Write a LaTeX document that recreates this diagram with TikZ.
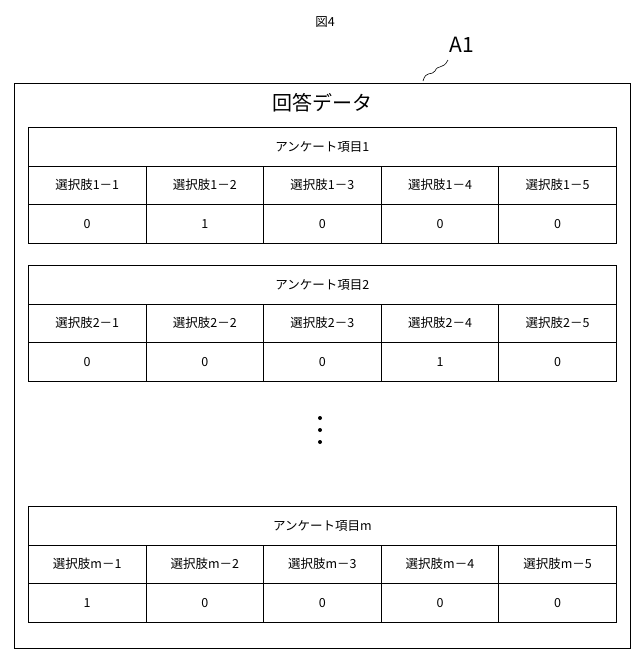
\documentclass[tikz,border=0pt]{standalone}
\usepackage{fontspec}
\setmainfont{Noto Sans CJK JP}
\begin{document}
\begin{tikzpicture}[x=1pt,y=-1pt,
  cell/.style={draw,line width=0.8pt,minimum width=117.6pt,minimum height=38.5pt,anchor=north west,inner sep=0pt,font=\fontsize{12.5}{14}\selectfont},
  hdr/.style={draw,line width=0.8pt,minimum width=588pt,minimum height=38.5pt,anchor=north west,inner sep=0pt,font=\fontsize{12.5}{14}\selectfont}]
\useasboundingbox (0,0) rectangle (640,665);
\node (fig) at (325,22) {\fontsize{12.5}{14}\selectfont 図4};
\node (a1) at (462,45) {\fontsize{21}{24}\selectfont A1};
\draw[line width=0.6pt] (423,81) .. controls (426,70) and (432,76) .. (435,71) .. controls (438,64) and (443,70) .. (448,60);
\node[draw,line width=0.8pt,minimum width=616pt,minimum height=565pt,anchor=north west] (outer) at (14,83) {};
\node (title) at (322,103) {\fontsize{20}{24}\selectfont 回答データ};
\foreach \t/\y/\lab/\vals in {1/127/1/{0,1,0,0,0},2/265/2/{0,0,0,1,0},m/506/m/{1,0,0,0,0}}{
  \node[hdr] (h\t) at (28,\y) {アンケート項目\lab};
  \foreach \v [count=\i] in \vals {
    \node[cell] (c\t\i) at ({28+117.6*(\i-1)},\y+38.5) {選択肢\lab－\i};
    \node[cell] (v\t\i) at ({28+117.6*(\i-1)},\y+77) {\v};
  }
}
\foreach \yy [count=\k] in {418,430,442} \fill (320,\yy) coordinate (d\k) circle (2pt);
\end{tikzpicture}
\end{document}
